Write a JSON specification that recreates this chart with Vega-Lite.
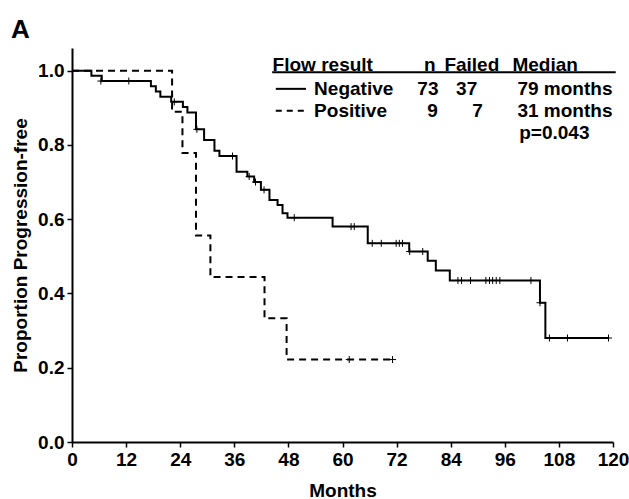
{
  "$schema": "https://vega.github.io/schema/vega-lite/v6.json",
  "width": 541,
  "height": 394,
  "autosize": {"type": "none"},
  "padding": {"left": 72, "top": 48, "right": 16, "bottom": 57},
  "background": "white",
  "title": {"text": "A", "anchor": "start", "frame": "group", "dx": -61, "dy": 31, "offset": 10, "baseline": "bottom", "fontSize": 26, "fontWeight": "bold", "font": "Liberation Sans", "color": "black"},
  "config": {
    "view": {"stroke": null},
    "axis": {"grid": false, "labelFlush": false, "domainColor": "black", "domainWidth": 2, "tickColor": "black", "tickWidth": 1.5, "tickSize": 5, "labelFont": "Liberation Sans", "labelFontWeight": "bold", "labelFontSize": 19, "labelColor": "black", "titleFont": "Liberation Sans", "titleFontWeight": "bold", "titleFontSize": 19, "titleColor": "black"},
    "text": {"font": "Liberation Sans", "fontWeight": "bold", "fontSize": 19, "color": "black"}
  },
  "datasets": {
    "neg": [
      {"t": 0, "s": 1.0}, {"t": 4.3, "s": 0.986}, {"t": 6.6, "s": 0.972}, {"t": 17.5, "s": 0.958}, {"t": 18.6, "s": 0.944}, {"t": 19.6, "s": 0.93}, {"t": 22.0, "s": 0.916}, {"t": 24.6, "s": 0.902}, {"t": 25.6, "s": 0.887}, {"t": 27.5, "s": 0.842}, {"t": 29.3, "s": 0.813}, {"t": 31.6, "s": 0.784}, {"t": 32.7, "s": 0.77}, {"t": 36.5, "s": 0.728}, {"t": 38.9, "s": 0.715}, {"t": 40.4, "s": 0.7}, {"t": 41.9, "s": 0.679}, {"t": 43.8, "s": 0.652}, {"t": 45.6, "s": 0.638}, {"t": 46.7, "s": 0.616}, {"t": 47.8, "s": 0.604}, {"t": 57.8, "s": 0.58}, {"t": 65.6, "s": 0.535}, {"t": 74.8, "s": 0.513}, {"t": 78.9, "s": 0.488}, {"t": 80.7, "s": 0.462}, {"t": 83.8, "s": 0.435}, {"t": 103.8, "s": 0.375}, {"t": 105.0, "s": 0.28}, {"t": 119.0, "s": 0.28}
    ],
    "pos": [
      {"t": 0, "s": 1.0}, {"t": 22.2, "s": 0.889}, {"t": 24.5, "s": 0.778}, {"t": 27.5, "s": 0.556}, {"t": 30.7, "s": 0.444}, {"t": 42.7, "s": 0.333}, {"t": 47.6, "s": 0.222}, {"t": 71.1, "s": 0.222}
    ],
    "cens": [
      {"t": 6.4, "s": 0.972}, {"t": 12.6, "s": 0.972}, {"t": 22.7, "s": 0.916}, {"t": 27.7, "s": 0.842}, {"t": 35.6, "s": 0.77}, {"t": 39.3, "s": 0.715}, {"t": 40.7, "s": 0.7}, {"t": 42.6, "s": 0.679}, {"t": 49.3, "s": 0.604}, {"t": 61.9, "s": 0.58}, {"t": 62.6, "s": 0.58}, {"t": 66.6, "s": 0.535}, {"t": 68.6, "s": 0.535}, {"t": 71.9, "s": 0.535}, {"t": 72.6, "s": 0.535}, {"t": 73.3, "s": 0.535}, {"t": 74.9, "s": 0.513}, {"t": 77.8, "s": 0.513}, {"t": 85.6, "s": 0.435}, {"t": 86.4, "s": 0.435}, {"t": 88.4, "s": 0.435}, {"t": 91.8, "s": 0.435}, {"t": 92.6, "s": 0.435}, {"t": 93.3, "s": 0.435}, {"t": 94.1, "s": 0.435}, {"t": 94.9, "s": 0.435}, {"t": 101.8, "s": 0.435}, {"t": 103.8, "s": 0.375}, {"t": 105.9, "s": 0.28}, {"t": 109.9, "s": 0.28}, {"t": 119.0, "s": 0.28}, {"t": 61.5, "s": 0.222}, {"t": 71.1, "s": 0.222}
    ],
    "legtext": [
      {"label": "Flow result", "x": 44.5, "y": 1.0}, {"label": "n", "x": 78.1, "y": 1.0}, {"label": "Failed", "x": 82.6, "y": 1.0}, {"label": "Median", "x": 97.7, "y": 1.0},
      {"label": "Negative", "x": 53.7, "y": 0.935}, {"label": "73", "x": 76.6, "y": 0.935}, {"label": "37", "x": 85.2, "y": 0.935}, {"label": "79 months", "x": 98.8, "y": 0.935},
      {"label": "Positive", "x": 53.7, "y": 0.876}, {"label": "9", "x": 78.8, "y": 0.876}, {"label": "7", "x": 88.8, "y": 0.876}, {"label": "31 months", "x": 98.8, "y": 0.876},
      {"label": "p=0.043", "x": 99.2, "y": 0.816}
    ],
    "legrule": [
      {"x": 44.4, "x2": 120.6, "y": 0.996},
      {"x": 45.2, "x2": 51.9, "y": 0.951}
    ],
    "legdash": [
      {"x": 45.2, "x2": 51.9, "y": 0.892}
    ]
  },
  "layer": [
    {
      "data": {"name": "neg"},
      "mark": {"type": "line", "interpolate": "step-after", "color": "black", "strokeWidth": 2, "clip": false},
      "encoding": {
        "x": {"field": "t", "type": "quantitative", "scale": {"domain": [0, 120], "nice": false}, "axis": {"values": [0, 12, 24, 36, 48, 60, 72, 84, 96, 108, 120], "title": "Months", "titlePadding": 12, "labelPadding": 3}},
        "y": {"field": "s", "type": "quantitative", "scale": {"domain": [0, 1.061], "nice": false}, "axis": {"values": [0, 0.2, 0.4, 0.6, 0.8, 1.0], "format": ".1f", "title": "Proportion Progression-free", "titlePadding": 7, "labelPadding": 3}}
      }
    },
    {
      "data": {"name": "pos"},
      "mark": {"type": "line", "interpolate": "step-after", "color": "black", "strokeWidth": 2, "strokeDash": [7, 5]},
      "encoding": {
        "x": {"field": "t", "type": "quantitative"},
        "y": {"field": "s", "type": "quantitative"}
      }
    },
    {
      "data": {"name": "cens"},
      "mark": {"type": "point", "shape": "M-1,0L1,0M0,-1L0,1", "filled": false, "color": "black", "strokeWidth": 1, "size": 49, "opacity": 1},
      "encoding": {
        "x": {"field": "t", "type": "quantitative"},
        "y": {"field": "s", "type": "quantitative"}
      }
    },
    {
      "data": {"name": "legrule"},
      "mark": {"type": "rule", "color": "black", "strokeWidth": 2, "clip": false},
      "encoding": {
        "x": {"field": "x", "type": "quantitative"},
        "x2": {"field": "x2"},
        "y": {"field": "y", "type": "quantitative"}
      }
    },
    {
      "data": {"name": "legdash"},
      "mark": {"type": "rule", "color": "black", "strokeWidth": 2, "strokeDash": [6, 5], "clip": false},
      "encoding": {
        "x": {"field": "x", "type": "quantitative"},
        "x2": {"field": "x2"},
        "y": {"field": "y", "type": "quantitative"}
      }
    },
    {
      "data": {"name": "legtext"},
      "mark": {"type": "text", "align": "left", "baseline": "alphabetic", "clip": false},
      "encoding": {
        "x": {"field": "x", "type": "quantitative"},
        "y": {"field": "y", "type": "quantitative"},
        "text": {"field": "label"}
      }
    }
  ]
}
